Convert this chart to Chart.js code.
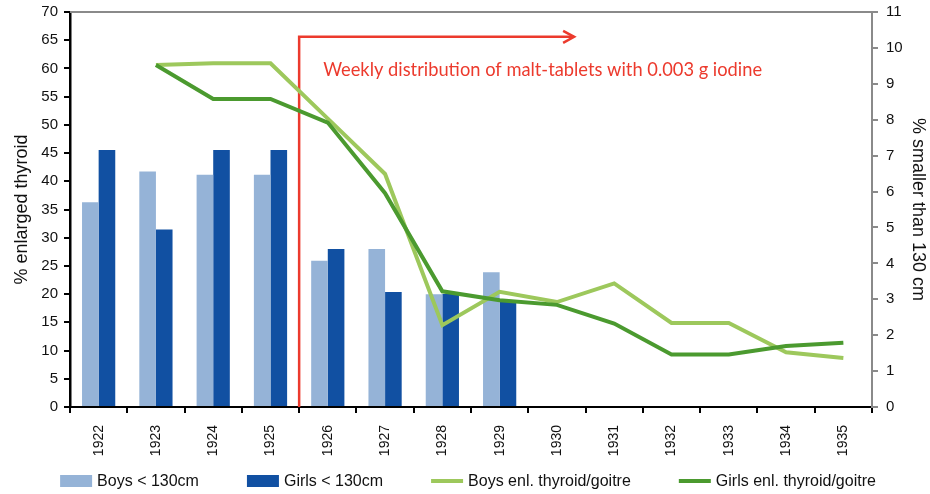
<!DOCTYPE html>
<html>
<head>
<meta charset="utf-8">
<script src="https://cdn.jsdelivr.net/npm/chart.js@4.4.1/dist/chart.umd.min.js"></script>
<style>
  html, body { margin: 0; padding: 0; background: #fff; }
  #wrap { width: 930px; height: 494px; }
</style>
</head>
<body>
<div id="wrap"><canvas id="chart"></canvas></div>
<script>
const years = ['1922', '1923', '1924', '1925', '1926', '1927', '1928', '1929', '1930', '1931', '1932', '1933', '1934', '1935'];

// % smaller than 130 cm (right axis)
const boysShort = [5.70, 6.56, 6.47, 6.47, 4.07, 4.40, 3.14, 3.75, null, null, null, null, null, null];
const girlsShort = [7.16, 4.94, 7.16, 7.16, 4.40, 3.20, 3.15, 2.94, null, null, null, null, null, null];

// % enlarged thyroid / goitre (left axis)
const boysGoitre = [null, 60.6, 60.9, 60.9, 51.1, 41.3, 14.5, 20.4, 18.6, 21.9, 14.9, 14.9, 9.7, 8.7];
const girlsGoitre = [null, 60.6, 54.6, 54.6, 50.4, 37.9, 20.5, 18.9, 18.1, 14.8, 9.3, 9.3, 10.8, 11.4];

// iodine programme marker: starts between 1925 and 1926
const iodineStart = 3.5;
const arrowEnd = 8.3;
const arrowLevel = 65.6;
const noteLevel = 59.7;
const noteText = 'Weekly distribution of malt-tablets with 0.003 g iodine';

const red = '#ec3a2d';
const fontFamily = '"Liberation Sans", Arial, sans-serif';

Chart.defaults.font.family = fontFamily;
Chart.defaults.color = '#111';

const iodinePlugin = {
    id: 'iodine',
    beforeDatasetsDraw(chart) {
        const {ctx, chartArea, scales: {x, y}} = chart;
        ctx.save();
        // top frame line
        ctx.strokeStyle = '#8a8a8a';
        ctx.lineWidth = 2;
        ctx.beginPath();
        ctx.moveTo(chartArea.left, chartArea.top);
        ctx.lineTo(chartArea.right, chartArea.top);
        ctx.stroke();

        const xs = x.getPixelForValue(iodineStart);
        const xe = x.getPixelForValue(arrowEnd);
        const yt = y.getPixelForValue(arrowLevel);
        ctx.strokeStyle = red;
        ctx.lineWidth = 2.5;
        ctx.beginPath();
        ctx.moveTo(xs, chartArea.bottom);
        ctx.lineTo(xs, yt);
        ctx.lineTo(xe, yt);
        ctx.stroke();
        ctx.beginPath();
        ctx.moveTo(xe - 11, yt - 6);
        ctx.lineTo(xe, yt);
        ctx.lineTo(xe - 11, yt + 6);
        ctx.stroke();

        ctx.fillStyle = red;
        ctx.font = '18.3px Lato, "Open Sans", sans-serif';
        ctx.textBaseline = 'middle';
        ctx.fillText(noteText, xs + 24, y.getPixelForValue(noteLevel));
        ctx.restore();
    }
};

// legend drawn by hand so the gap between items can be wider than its height
const bottomLegend = {
    id: 'bottomLegend',
    afterDraw(chart) {
        const ctx = chart.ctx;
        const boxW = 32, gapText = 5, gapItem = 48;
        ctx.save();
        ctx.font = '16px ' + fontFamily;
        const items = chart.data.datasets.map(ds => ({
            ds,
            w: boxW + gapText + ctx.measureText(ds.label).width
        }));
        const total = items.reduce((a, it) => a + it.w, 0) + gapItem * (items.length - 1);
        let x = (chart.width - total) / 2 + 3;
        const y = chart.height - 13;
        items.forEach(it => {
            const ds = it.ds;
            if (ds.type === 'line') {
                ctx.strokeStyle = ds.borderColor;
                ctx.lineWidth = 4;
                ctx.beginPath();
                ctx.moveTo(x, y);
                ctx.lineTo(x + boxW, y);
                ctx.stroke();
            } else {
                ctx.fillStyle = ds.backgroundColor;
                ctx.fillRect(x, y - 6, boxW, 12);
            }
            ctx.fillStyle = '#111';
            ctx.textBaseline = 'middle';
            ctx.fillText(ds.label, x + boxW + gapText, y + 1);
            x += it.w + gapItem;
        });
        ctx.restore();
    }
};

// pin the vertical axes' widths and drop their extra top padding
function fixY(width) {
    return s => {
        s.width = width;
        s.paddingTop = 0;
        s.paddingBottom = 0;
    };
}

new Chart(document.getElementById('chart'), {
    type: 'bar',
    data: {
        labels: years,
        datasets: [
            {
                label: 'Boys < 130cm',
                data: boysShort,
                backgroundColor: '#95b3d7',
                yAxisID: 'y1',
                order: 2,
                categoryPercentage: 0.58,
                barPercentage: 1
            },
            {
                label: 'Girls < 130cm',
                data: girlsShort,
                backgroundColor: '#1150a2',
                yAxisID: 'y1',
                order: 2,
                categoryPercentage: 0.58,
                barPercentage: 1
            },
            {
                type: 'line',
                label: 'Boys enl. thyroid/goitre',
                data: boysGoitre,
                borderColor: '#9dc85c',
                backgroundColor: '#9dc85c',
                borderWidth: 4,
                pointRadius: 0,
                tension: 0,
                yAxisID: 'y',
                order: 1
            },
            {
                type: 'line',
                label: 'Girls enl. thyroid/goitre',
                data: girlsGoitre,
                borderColor: '#4b9a2f',
                backgroundColor: '#4b9a2f',
                borderWidth: 4,
                pointRadius: 0,
                tension: 0,
                yAxisID: 'y',
                order: 0
            }
        ]
    },
    options: {
        responsive: true,
        maintainAspectRatio: false,
        animation: false,
        layout: { padding: { top: 12, bottom: 30, left: 0, right: 0 } },
        plugins: {
            tooltip: { enabled: false },
            legend: { display: false }
        },
        scales: {
            x: {
                grid: { offset: true, drawOnChartArea: false, tickLength: 6, color: '#000', lineWidth: 2 },
                border: { color: '#000', width: 2 },
                ticks: { minRotation: 90, maxRotation: 90, font: { size: 14 }, color: '#111', padding: 12 },
                afterFit(s) { s.height = 57; }
            },
            y: {
                position: 'left',
                min: 0,
                max: 70,
                ticks: { stepSize: 5, font: { size: 15 }, color: '#111', padding: 6 },
                grid: { drawOnChartArea: false, tickLength: 6, color: '#000', lineWidth: 2 },
                border: { color: '#000', width: 2.5 },
                title: { display: true, text: '% enlarged thyroid', font: { size: 18 }, color: '#111', padding: { top: 11, bottom: 0 } },
                afterFit: fixY(70)
            },
            y1: {
                position: 'right',
                min: 0,
                max: 11,
                ticks: { stepSize: 1, font: { size: 15 }, color: '#111', padding: 8 },
                grid: { drawOnChartArea: false, tickLength: 6, color: '#8a8a8a', lineWidth: 2 },
                border: { color: '#8a8a8a', width: 2 },
                title: { display: true, text: '% smaller than 130 cm', font: { size: 18 }, color: '#111', padding: { top: 1, bottom: 0 } },
                afterFit: fixY(58)
            }
        }
    },
    plugins: [iodinePlugin, bottomLegend]
});
</script>
</body>
</html>
